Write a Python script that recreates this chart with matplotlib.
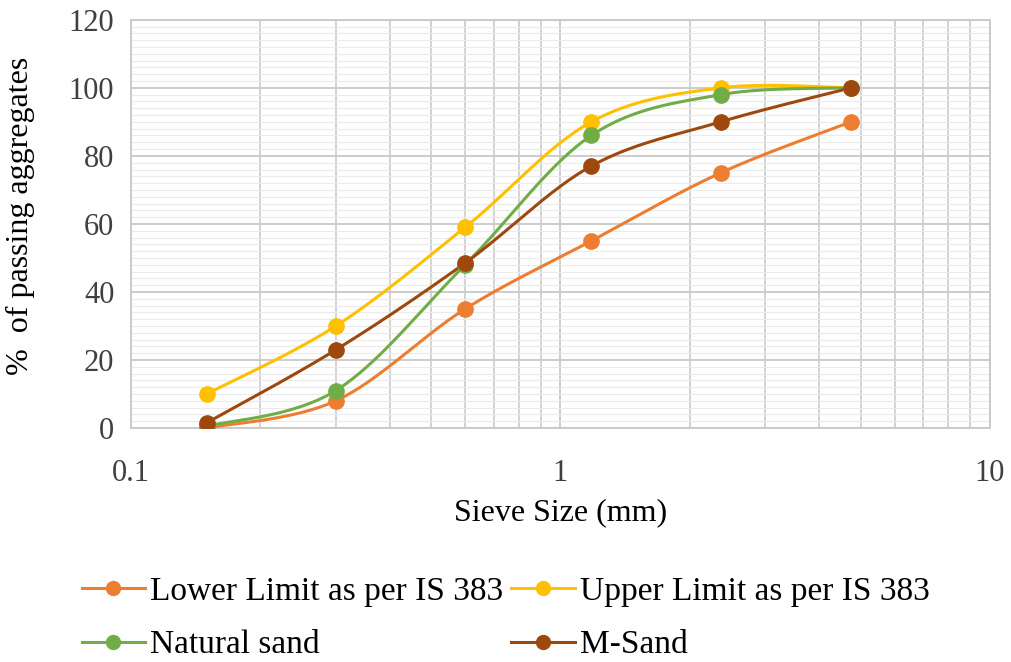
import matplotlib
matplotlib.use("Agg")
import matplotlib.pyplot as plt
from matplotlib.lines import Line2D
import numpy as np

plt.rcParams['font.family'] = ['Liberation Serif', 'DejaVu Serif']

sieve = [0.15, 0.3, 0.6, 1.18, 2.36, 4.75]
lower = [0, 8, 35, 55, 75, 90]
upper = [10, 30, 59, 90, 100, 100]
natural = [0.5, 11, 48, 86, 98, 100]
msand = [1.5, 23, 48.5, 77, 90, 100]

names = ['Lower Limit as per IS 383', 'Upper Limit as per IS 383', 'Natural sand', 'M-Sand']
colors = ['#ED7D31', '#FFC000', '#70AD47', '#9E480E']


def smooth(xs, ys, n=40):
    # excel-like smoothed line: catmull-rom bezier in log-x / y screen space
    u = np.log10(xs) * 430.0
    v = np.asarray(ys, float) * 3.4
    P = np.column_stack([u, v])
    out = []
    for i in range(len(P) - 1):
        p0 = P[i - 1] if i > 0 else P[i]
        p1, p2 = P[i], P[i + 1]
        p3 = P[i + 2] if i + 2 < len(P) else P[i + 1]
        c1 = p1 + (p2 - p0) / 6.0
        c2 = p2 - (p3 - p1) / 6.0
        t = np.linspace(0, 1, n)[:, None]
        seg = (1 - t) ** 3 * p1 + 3 * (1 - t) ** 2 * t * c1 + 3 * (1 - t) * t ** 2 * c2 + t ** 3 * p2
        out.append(seg if i == 0 else seg[1:])
    out = np.vstack(out)
    return 10 ** (out[:, 0] / 430.0), out[:, 1] / 3.4


fig = plt.figure(figsize=(10.11, 6.62), dpi=100)
ax = fig.add_axes([0.1296, 0.3535, 0.8494, 0.6165])

ax.set_xscale('log')
ax.set_xlim(0.1, 10)
ax.set_ylim(0, 120)
ax.set_yticks(np.arange(0, 121, 20))
ax.set_yticks(np.arange(0, 121, 2), minor=True)
ax.set_xticks([0.1, 1, 10])
ax.set_xticklabels(['0.1', '1', '10'])

ax.grid(True, which='major', color='#C8C8C8', lw=1.3)
ax.grid(True, which='minor', axis='x', color='#C8C8C8', lw=1.1)
ax.grid(True, which='minor', axis='y', color='#EBEBEB', lw=0.8)
ax.set_axisbelow(True)
for s in ax.spines.values():
    s.set_color('#C8C8C8')
    s.set_linewidth(1.3)
ax.tick_params(which='both', length=0, labelsize=22, colors='#404040')
ax.tick_params(axis='x', pad=22)
ax.tick_params(axis='y', pad=12)

series = [lower, upper, natural, msand]
for ys, c in zip(series, colors):
    sx, sy = smooth(sieve, ys)
    ax.plot(sx, sy, color=c, lw=2.2, zorder=3)
    ax.plot(sieve, ys, 'o', color=c, ms=11, zorder=4)

ax.set_xlabel('Sieve Size (mm)', fontsize=23, labelpad=8)
ax.set_ylabel('%  of passing aggregates', fontsize=23, labelpad=10)
ax.yaxis.set_label_coords(-0.112, 0.52)

handles = [Line2D([], [], color=c, lw=2.2, marker='o', ms=10) for c in colors]
order = [0, 2, 1, 3]
fig.legend([handles[i] for i in order], [names[i] for i in order], ncol=2,
           loc='center', bbox_to_anchor=(0.5, 0.066), frameon=False, fontsize=24,
           handlelength=1.9, handletextpad=0.15, columnspacing=0.25, labelspacing=0.7)

fig.savefig('out.png', dpi=100)
